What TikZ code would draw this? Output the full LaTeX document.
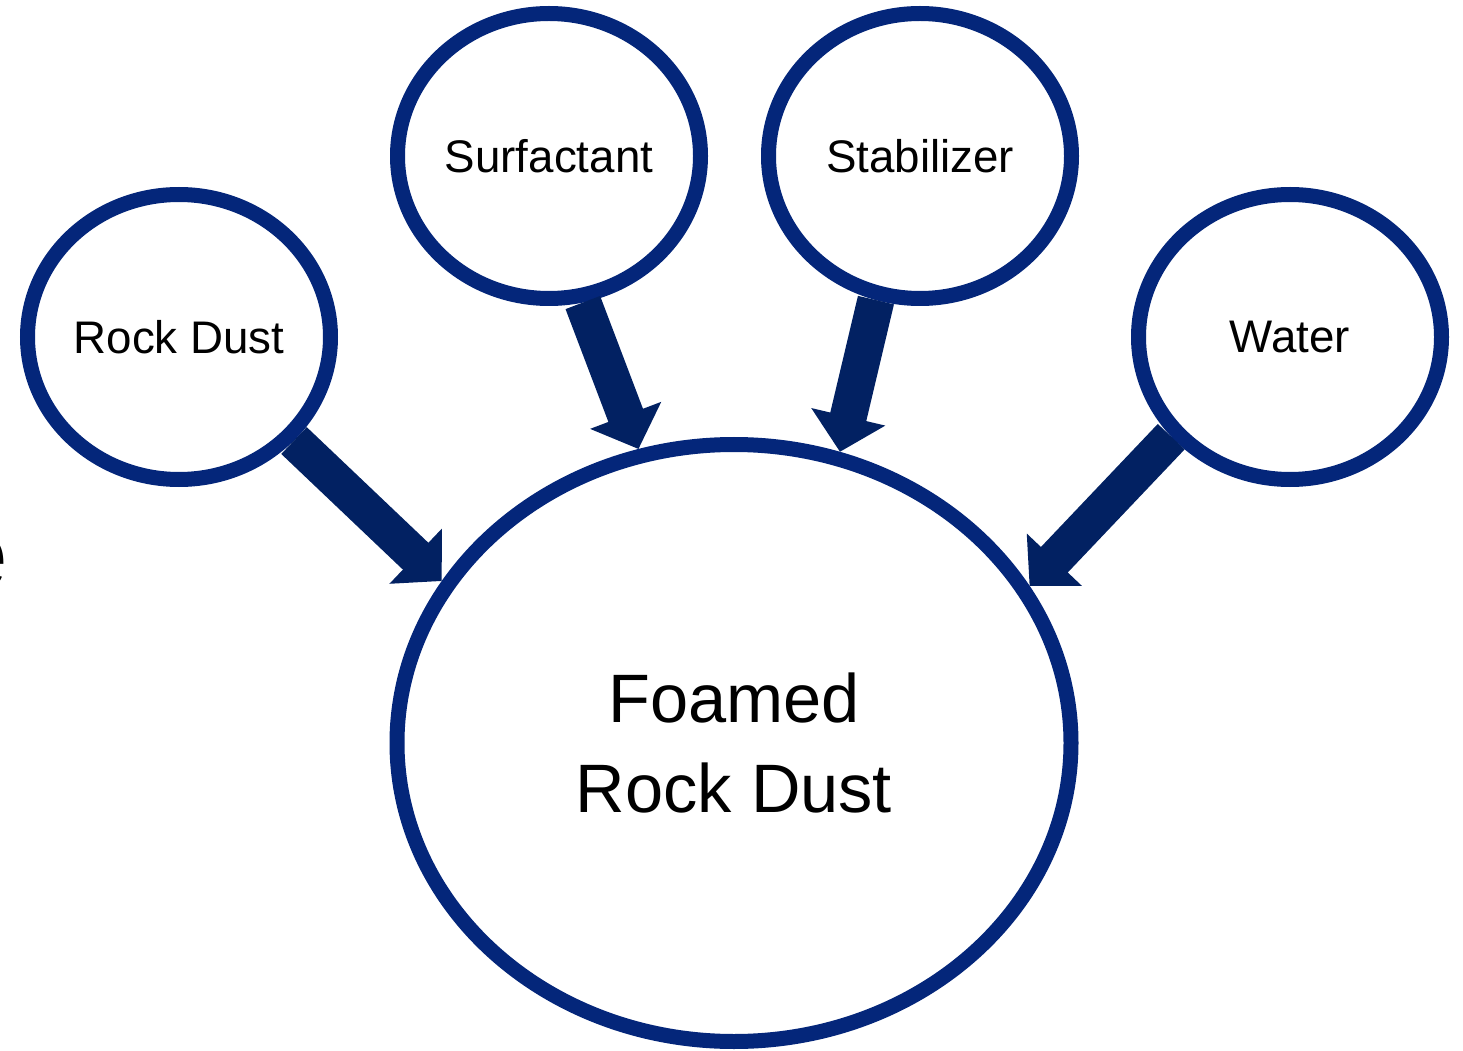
\documentclass[tikz,border=0pt]{standalone}
\usepackage{fontspec}
\setmainfont{Liberation Sans}
\usetikzlibrary{shapes.geometric,arrows.meta}

\definecolor{ringblue}{RGB}{4,38,122}
\definecolor{arrowblue}{RGB}{2,33,98}

\begin{document}
\begin{tikzpicture}[
		ingredient/.style={ellipse,draw=ringblue,line width=0.15cm,fill=white,inner sep=0pt,
			minimum width=3.03cm,minimum height=2.85cm,font=\fontsize{13}{15}\selectfont},
		product/.style={ellipse,draw=ringblue,line width=0.15cm,fill=white,inner sep=0pt,
			minimum width=6.74cm,minimum height=5.97cm,align=center,font=\fontsize{19.5}{25.6}\selectfont},
		feed/.style={arrowblue,line width=0.37cm,-{Triangle[width=0.74cm,length=0.36cm]}}
	]
	\useasboundingbox (0,0) rectangle (14.63,-10.51);
	% partly cut text at the left edge
	\node[anchor=east,inner sep=0pt,font=\fontsize{28}{32}\selectfont] (cut) at (0.085,-5.63) {e};
	% mixture and ingredients
	\node[product] (foam) at (7.34,-7.43) {Foamed\\Rock Dust};
	\node[ingredient] (rock) at (1.79,-3.37) {Rock Dust};
	\node[ingredient] (surf) at (5.49,-1.56) {Surfactant};
	\node[ingredient] (stab) at (9.20,-1.56) {Stabilizer};
	\node[ingredient] (water) at (12.90,-3.37) {Water};
	% feeds
	\coordinate (tiprock) at (foam.151.5);
	\coordinate (tipsurf) at (foam.108);
	\coordinate (tipstab) at (foam.70);
	\coordinate (tipwater) at (foam.28.7);
	\draw[feed] (rock.-42) -- (tiprock);
	\draw[feed] (surf.-77) -- (tipsurf);
	\draw[feed] (stab.253.5) -- (tipstab);
	\draw[feed] (water.220.5) -- (tipwater);
\end{tikzpicture}
\end{document}
